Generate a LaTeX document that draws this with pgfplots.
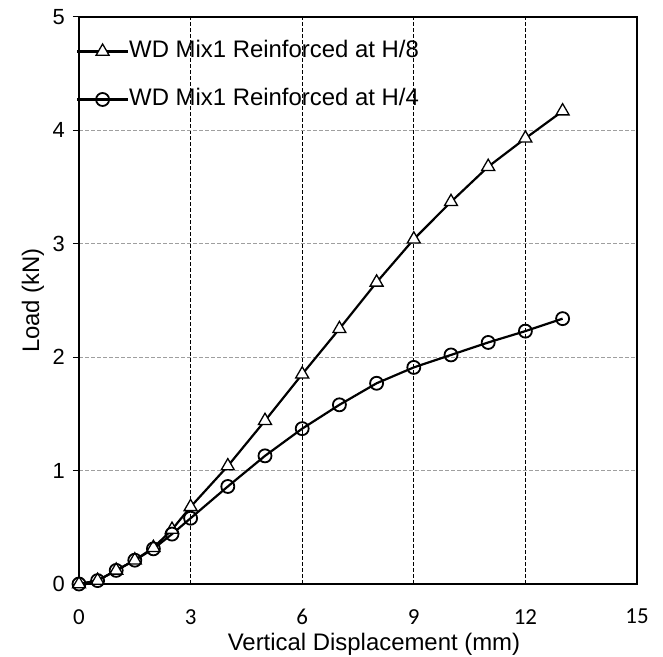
\documentclass[border=0pt]{standalone}
\usepackage{fontspec}
\setmainfont{Liberation Sans}
\newfontfamily\carlito{Carlito}
\usepackage{pgfplots}
\pgfplotsset{compat=1.18}
\begin{document}
\begin{tikzpicture}
\useasboundingbox (0,0) rectangle (663bp,657bp);
\begin{axis}[
  at={(79bp,73bp)}, anchor=south west,
  scale only axis, width=558bp, height=567bp,
  xmin=0, xmax=15, ymin=0, ymax=5,
  xtick={0,3,6,9,12,15}, ytick={0,1,2,3,4,5},
  /pgf/number format/assume math mode=true,
  axis line style={line width=1.6bp},
  tick pos=left,
  tick align=outside,
  major tick length=6bp,
  x tick style={draw=none},
  y tick style={line width=1bp, black},
  xmajorgrids, ymajorgrids,
  x grid style={black, line width=0.8bp, dash pattern=on 4bp off 2bp},
  y grid style={gray!75, line width=0.8bp, dash pattern=on 4bp off 2bp},
  x tick label style={font=\fontsize{23}{23}\selectfont\carlito, inner sep=0pt, anchor=north, yshift=-19bp},
  y tick label style={font=\fontsize{22}{22}\selectfont, inner sep=0pt, anchor=east, xshift=-8bp},
  xlabel={Vertical Displacement (mm)},
  ylabel={Load (kN)},
  xlabel style={font=\fontsize{24}{24}\selectfont, inner sep=0pt, anchor=base, at={(axis description cs:0.5,0)}, yshift=-66bp, xshift=16bp},
  ylabel style={font=\fontsize{24}{24}\selectfont, inner sep=0pt, anchor=center, at={(axis description cs:0,0.5)}, yshift=46bp},
  legend style={draw=none, fill=none, inner sep=0pt, outer sep=0pt,
    at={(-3bp,544bp)}, anchor=north west,
    font=\fontsize{24}{24}\selectfont,
    nodes={inner sep=0pt, text height=18bp, text depth=5bp},
    row sep=25bp,
    /tikz/every even column/.append style={column sep=11bp}},
  legend cell align=left,
  legend image code/.code={
    \draw[#1, mark repeat=2, mark phase=2] plot coordinates {(0bp,0bp) (25.5bp,0bp) (51bp,0bp)};
  },
]
\addplot[black, line width=2.2bp, mark=triangle*, mark size=7.5bp,
  mark options={fill=white, line width=1.3bp, solid}]
  coordinates {(0,0) (0.5,0.03) (1,0.12) (1.5,0.21) (2,0.32) (2.5,0.48) (3,0.68) (4,1.04) (5,1.44) (6,1.85) (7,2.25) (8,2.66) (9,3.04) (10,3.37) (11,3.68) (12,3.93) (13,4.17)};
\addlegendentry{WD Mix1 Reinforced at H/8}
\addplot[black, line width=2.2bp, mark=o, mark size=6.5bp,
  mark options={line width=1.8bp, solid}]
  coordinates {(0,0) (0.5,0.03) (1,0.12) (1.5,0.21) (2,0.31) (2.5,0.44) (3,0.58) (4,0.86) (5,1.13) (6,1.37) (7,1.58) (8,1.77) (9,1.91) (10,2.02) (11,2.13) (12,2.23) (13,2.34)};
\addlegendentry{WD Mix1 Reinforced at H/4}
\end{axis}
\end{tikzpicture}
\end{document}
